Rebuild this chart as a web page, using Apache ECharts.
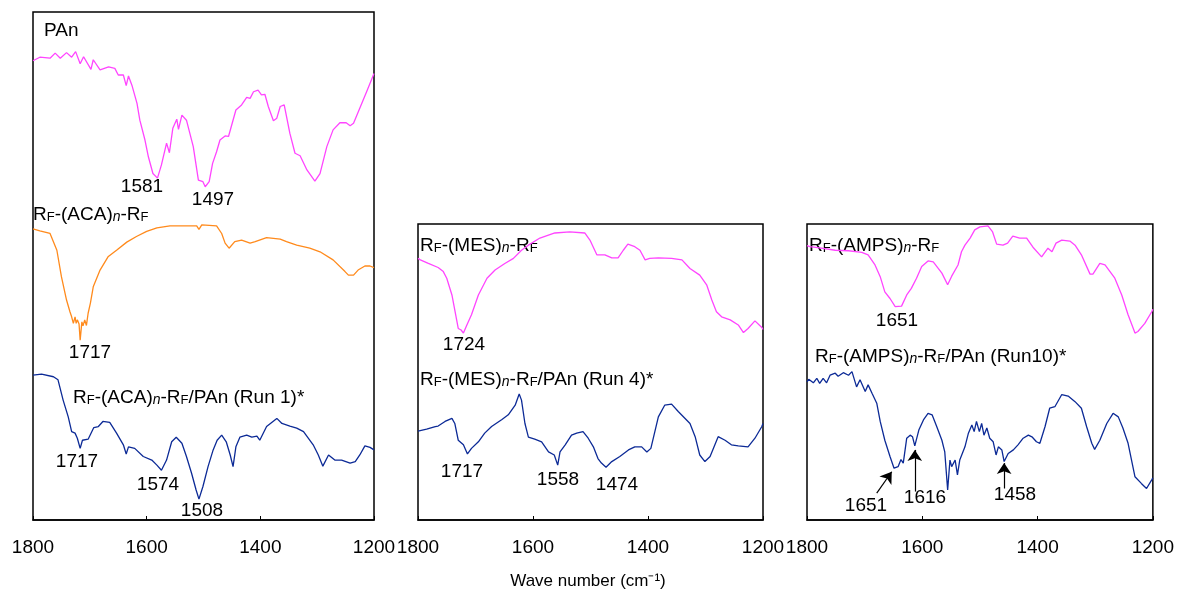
<!DOCTYPE html>
<html>
<head>
<meta charset="utf-8">
<script src="https://cdn.jsdelivr.net/npm/echarts@6.0.0/dist/echarts.min.js"></script>
<style>
  html, body { margin: 0; padding: 0; background: #fff; }
  #chart { width: 1177px; height: 596px; }
</style>
</head>
<body>
<div id="chart"></div>
<script>
// x: wave number (cm-1), y: transmittance (a.u.)
const xTicks = [1800, 1600, 1400, 1200];

const pAn = [[1800,90.4],[1788,91.1],[1770,90.9],[1761,91.9],[1752,90.9],[1741,92.0],[1732,91.1],[1725,92.2],[1717,89.8],[1711,91.2],[1698,88.7],[1694,90.6],[1682,88.6],[1667,89.2],[1656,88.9],[1650,87.6],[1641,87.6],[1636,85.5],[1632,87.4],[1626,85.6],[1617,82.0],[1612,78.7],[1603,74.8],[1597,71.5],[1589,68.2],[1581,67.3],[1574,69.9],[1565,74.2],[1560,72.3],[1554,77.1],[1547,78.9],[1544,76.9],[1538,79.7],[1530,78.7],[1518,73.5],[1509,66.9],[1501,66.6],[1497,65.6],[1490,66.6],[1484,70.2],[1477,72.5],[1471,74.8],[1462,75.6],[1456,75.5],[1443,80.7],[1433,81.7],[1424,83.2],[1418,83.0],[1412,84.3],[1404,84.6],[1398,83.7],[1392,83.8],[1386,81.4],[1377,78.6],[1371,79.1],[1365,81.4],[1358,81.7],[1348,76.1],[1339,72.2],[1330,71.7],[1318,68.9],[1304,66.7],[1295,68.2],[1283,73.5],[1272,76.8],[1260,78.2],[1249,78.2],[1242,77.6],[1236,78.1],[1213,84.3],[1200,87.9]];

const aca = [[1800,57.3],[1788,56.9],[1770,56.4],[1758,53.1],[1750,47.9],[1741,43.3],[1735,41.0],[1732,40.0],[1729,38.7],[1726,40.0],[1724,38.7],[1722,39.4],[1719,38.6],[1717,35.4],[1714,39.0],[1712,38.2],[1709,39.4],[1706,38.3],[1703,40.7],[1699,42.7],[1694,45.9],[1682,49.2],[1668,51.8],[1653,53.1],[1635,54.7],[1618,55.8],[1600,56.8],[1582,57.5],[1559,57.9],[1530,57.9],[1512,57.9],[1508,57.2],[1503,58.1],[1477,57.9],[1468,56.4],[1462,54.5],[1455,53.5],[1445,54.8],[1433,55.1],[1418,54.5],[1409,54.8],[1389,55.6],[1365,55.3],[1354,54.8],[1336,54.1],[1313,53.5],[1295,52.8],[1272,51.2],[1251,48.9],[1245,48.2],[1236,48.2],[1228,49.2],[1216,50.0],[1207,50.0],[1200,49.7]];

const run1 = [[1800,28.5],[1785,28.7],[1764,28.2],[1756,27.6],[1747,23.6],[1738,20.3],[1732,17.4],[1726,17.1],[1722,16.1],[1717,14.1],[1713,15.7],[1703,15.9],[1693,18.2],[1685,18.4],[1677,19.4],[1665,19.2],[1653,17.1],[1641,14.8],[1636,13.0],[1632,14.4],[1621,14.1],[1606,12.5],[1591,11.8],[1582,10.8],[1574,9.8],[1565,11.8],[1556,15.4],[1548,16.3],[1538,15.1],[1530,12.5],[1521,9.2],[1513,5.9],[1508,4.1],[1501,6.6],[1492,10.5],[1483,13.8],[1476,15.7],[1468,16.7],[1460,15.4],[1453,12.8],[1448,10.5],[1443,14.4],[1436,16.3],[1424,16.7],[1415,16.3],[1406,16.5],[1401,15.7],[1389,18.4],[1371,20.0],[1362,19.0],[1348,18.5],[1336,18.1],[1324,17.4],[1307,14.8],[1298,12.8],[1290,10.6],[1280,12.8],[1269,11.8],[1257,11.8],[1242,11.2],[1233,11.5],[1225,12.8],[1216,14.6],[1207,14.3],[1200,13.8]];

const mes = [[1800,51.5],[1796,51.2],[1782,50.5],[1765,49.7],[1756,48.9],[1750,47.6],[1741,44.3],[1736,41.3],[1730,37.7],[1725,37.4],[1721,36.8],[1715,38.4],[1707,40.4],[1695,44.3],[1680,47.6],[1666,49.2],[1649,50.5],[1634,51.5],[1620,53.1],[1608,54.1],[1588,55.5],[1562,56.5],[1536,56.7],[1510,56.5],[1501,55.1],[1489,52.2],[1475,52.2],[1463,51.6],[1452,51.6],[1443,53.1],[1435,54.3],[1423,53.8],[1414,53.1],[1405,51.2],[1397,51.5],[1382,51.6],[1359,51.5],[1341,51.2],[1327,49.5],[1310,48.2],[1298,46.3],[1289,43.3],[1281,41.0],[1272,40.0],[1257,39.4],[1243,38.4],[1234,36.9],[1226,37.7],[1214,39.2],[1202,37.9],[1200,37.5]];

const run4 = [[1800,17.5],[1797,17.6],[1785,17.9],[1770,18.4],[1765,18.5],[1753,19.4],[1741,20.0],[1736,19.0],[1730,15.7],[1721,14.8],[1714,13.0],[1707,14.1],[1695,15.4],[1684,17.1],[1672,18.4],[1654,19.8],[1643,20.7],[1631,22.6],[1624,24.8],[1620,23.6],[1614,19.0],[1608,16.3],[1597,15.9],[1585,15.4],[1573,13.4],[1563,12.8],[1557,10.8],[1553,13.4],[1544,14.8],[1533,16.7],[1524,17.1],[1513,17.4],[1504,16.1],[1495,14.4],[1487,12.1],[1481,11.2],[1473,10.4],[1463,11.5],[1449,12.5],[1434,13.8],[1423,14.4],[1411,14.4],[1402,13.4],[1395,14.1],[1382,20.3],[1371,22.6],[1359,22.8],[1347,21.3],[1327,19.0],[1318,16.4],[1310,12.8],[1301,11.5],[1292,12.5],[1278,16.4],[1266,15.7],[1255,14.8],[1243,14.6],[1226,14.4],[1214,16.1],[1202,18.4],[1200,19.0]];

const amps = [[1800,54.0],[1795,53.8],[1775,53.5],[1751,53.1],[1728,53.0],[1705,52.7],[1694,52.2],[1682,50.2],[1673,47.9],[1665,44.9],[1656,43.6],[1647,42.0],[1636,42.1],[1627,44.3],[1619,45.6],[1610,47.6],[1601,49.9],[1590,51.0],[1581,50.8],[1566,48.6],[1556,46.3],[1549,48.0],[1538,50.2],[1532,52.8],[1526,54.1],[1517,55.5],[1509,57.1],[1500,57.7],[1486,57.9],[1478,56.7],[1471,54.3],[1460,54.1],[1452,54.5],[1443,55.9],[1431,55.5],[1419,55.5],[1408,53.7],[1393,51.8],[1382,53.5],[1375,52.8],[1368,54.5],[1358,55.1],[1344,54.9],[1335,54.1],[1324,52.2],[1309,48.4],[1304,48.4],[1292,50.5],[1283,50.2],[1266,47.6],[1254,44.3],[1243,40.4],[1231,36.8],[1226,37.1],[1214,38.7],[1202,41.0],[1200,41.5]];

const run10 = [[1800,27.2],[1797,27.7],[1789,27.0],[1783,27.9],[1778,26.9],[1772,27.9],[1766,27.0],[1760,28.5],[1751,28.9],[1746,28.3],[1737,29.0],[1728,28.5],[1722,29.2],[1714,26.2],[1708,27.6],[1699,25.3],[1694,26.6],[1687,24.9],[1679,23.0],[1673,19.4],[1665,15.7],[1656,12.5],[1649,10.2],[1642,10.5],[1637,11.9],[1633,11.2],[1627,16.1],[1621,16.7],[1617,16.4],[1613,14.6],[1606,17.7],[1598,19.7],[1590,21.0],[1583,20.7],[1575,18.4],[1566,15.7],[1561,13.4],[1556,5.9],[1552,11.8],[1549,10.5],[1543,11.8],[1539,8.9],[1535,11.8],[1526,14.4],[1520,17.1],[1514,18.7],[1510,17.4],[1506,19.4],[1501,17.4],[1497,19.0],[1493,16.7],[1488,18.1],[1483,16.1],[1477,15.4],[1472,12.8],[1468,14.4],[1462,13.8],[1458,11.5],[1451,13.1],[1442,13.8],[1434,14.8],[1425,16.1],[1416,16.7],[1409,16.3],[1402,15.4],[1396,15.1],[1387,18.4],[1379,22.0],[1370,22.3],[1358,24.7],[1347,24.4],[1335,23.3],[1324,22.0],[1315,18.4],[1306,15.1],[1301,13.9],[1292,15.7],[1280,19.0],[1269,21.0],[1260,20.3],[1252,18.1],[1243,15.1],[1231,8.5],[1220,7.2],[1211,6.2],[1202,7.9],[1200,8.3]];

// arrows in the third panel: [tail, head] in data units
const run10Arrows = [
  [[1679, 5.3], [1653, 9.5]],
  [[1613, 5.6], [1613, 13.8]],
  [[1458, 6.2], [1458, 11.2]]
];

const FONT = '"Liberation Sans", Arial, Helvetica, sans-serif';
const PINK = '#ff45ff';
const ORANGE = '#ff8a1c';
const NAVY = '#0c2a96';

const chart = echarts.init(document.getElementById('chart'));

const grids = [
  { left: 33, top: 12, width: 341, height: 508 },
  { left: 418, top: 224, width: 345, height: 296 },
  { left: 807, top: 224, width: 346, height: 296 }
];
const yMax = [100, 296 / 5.08, 296 / 5.08];

function xAxisFor(i) {
  return {
    type: 'value', gridIndex: i, min: 1200, max: 1800, interval: 200, inverse: true,
    axisLine: { show: true, lineStyle: { color: '#000', width: 1.5 } },
    axisTick: { show: true, inside: true, length: 4, lineStyle: { color: '#000', width: 1 } },
    axisLabel: { show: true, margin: 18, color: '#000', fontSize: 19, fontFamily: FONT,
      formatter: v => xTicks.indexOf(v) >= 0 ? String(v) : '' },
    splitLine: { show: false }
  };
}
function yAxisFor(i) {
  return { type: 'value', gridIndex: i, min: 0, max: yMax[i], show: false, splitLine: { show: false } };
}
function line(data, color, i, extra) {
  return Object.assign({
    type: 'line', xAxisIndex: i, yAxisIndex: i, data: data, showSymbol: false, symbol: 'none',
    lineStyle: { color: color, width: 1.3 }, silent: true, animation: false
  }, extra || {});
}

const richSub = {
  sub: { fontSize: 13, fontFamily: FONT, fill: '#000', verticalAlign: 'bottom', lineHeight: 9 },
  isub: { fontSize: 14, fontFamily: FONT, fontStyle: 'italic', fill: '#000', verticalAlign: 'bottom', lineHeight: 9 },
  m: { fontSize: 19, fontFamily: FONT, fill: '#000', verticalAlign: 'bottom', lineHeight: 22 }
};
function label(x, y, text, align) {
  return {
    type: 'text', x: x, y: y, silent: true,
    style: { text: text, fontSize: 19, fontFamily: FONT, fill: '#000',
      align: align || 'center', verticalAlign: 'middle', rich: richSub }
  };
}

const option = {
  backgroundColor: '#fff',
  animation: false,
  grid: grids.map(g => Object.assign({ show: true, borderColor: '#000', borderWidth: 1.5, backgroundColor: 'transparent' }, g)),
  xAxis: [0, 1, 2].map(xAxisFor),
  yAxis: [0, 1, 2].map(yAxisFor),
  series: [
    line(pAn, PINK, 0),
    line(aca, ORANGE, 0),
    line(run1, NAVY, 0),
    line(mes, PINK, 1),
    line(run4, NAVY, 1),
    line(amps, PINK, 2),
    line(run10, NAVY, 2, {
      markLine: {
        silent: true, animation: false,
        symbol: ['none', 'arrow'], symbolSize: 11,
        label: { show: false },
        emphasis: { disabled: true },
        lineStyle: { color: '#000', width: 1.2, type: 'solid', opacity: 1 },
        itemStyle: { color: '#000' },
        data: run10Arrows.map(a => [
          { coord: a[0], symbol: 'none' },
          { coord: a[1], symbol: 'arrow', symbolSize: 11, itemStyle: { color: '#000' } }
        ])
      }
    })
  ],
  graphic: [
    label(44, 31, 'PAn', 'left'),
    label(142, 187, '1581'),
    label(213, 200, '1497'),
    label(33, 213, '{m|R}{sub|F}{m|-(ACA)}{isub|n}{m|-R}{sub|F}', 'left'),
    label(90, 353, '1717'),
    label(73, 396, '{m|R}{sub|F}{m|-(ACA)}{isub|n}{m|-R}{sub|F}{m|/PAn (Run 1)*}', 'left'),
    label(77, 462, '1717'),
    label(158, 485, '1574'),
    label(202, 511, '1508'),

    label(420, 244, '{m|R}{sub|F}{m|-(MES)}{isub|n}{m|-R}{sub|F}', 'left'),
    label(464, 345, '1724'),
    label(420, 378, '{m|R}{sub|F}{m|-(MES)}{isub|n}{m|-R}{sub|F}{m|/PAn (Run 4)*}', 'left'),
    label(462, 472, '1717'),
    label(558, 480, '1558'),
    label(617, 485, '1474'),

    label(809, 244, '{m|R}{sub|F}{m|-(AMPS)}{isub|n}{m|-R}{sub|F}', 'left'),
    label(897, 321, '1651'),
    label(815, 355, '{m|R}{sub|F}{m|-(AMPS)}{isub|n}{m|-R}{sub|F}{m|/PAn (Run10)*}', 'left'),
    label(866, 506, '1651'),
    label(925, 498, '1616'),
    label(1015, 495, '1458'),

    {
      type: 'text', x: 588, y: 581, silent: true,
      style: { text: 'Wave number (cm\u207B\u00B9)', align: 'center', verticalAlign: 'middle',
        fontSize: 17, fontFamily: FONT, fill: '#000' }
    }
  ]
};

chart.setOption(option);
</script>
</body>
</html>
